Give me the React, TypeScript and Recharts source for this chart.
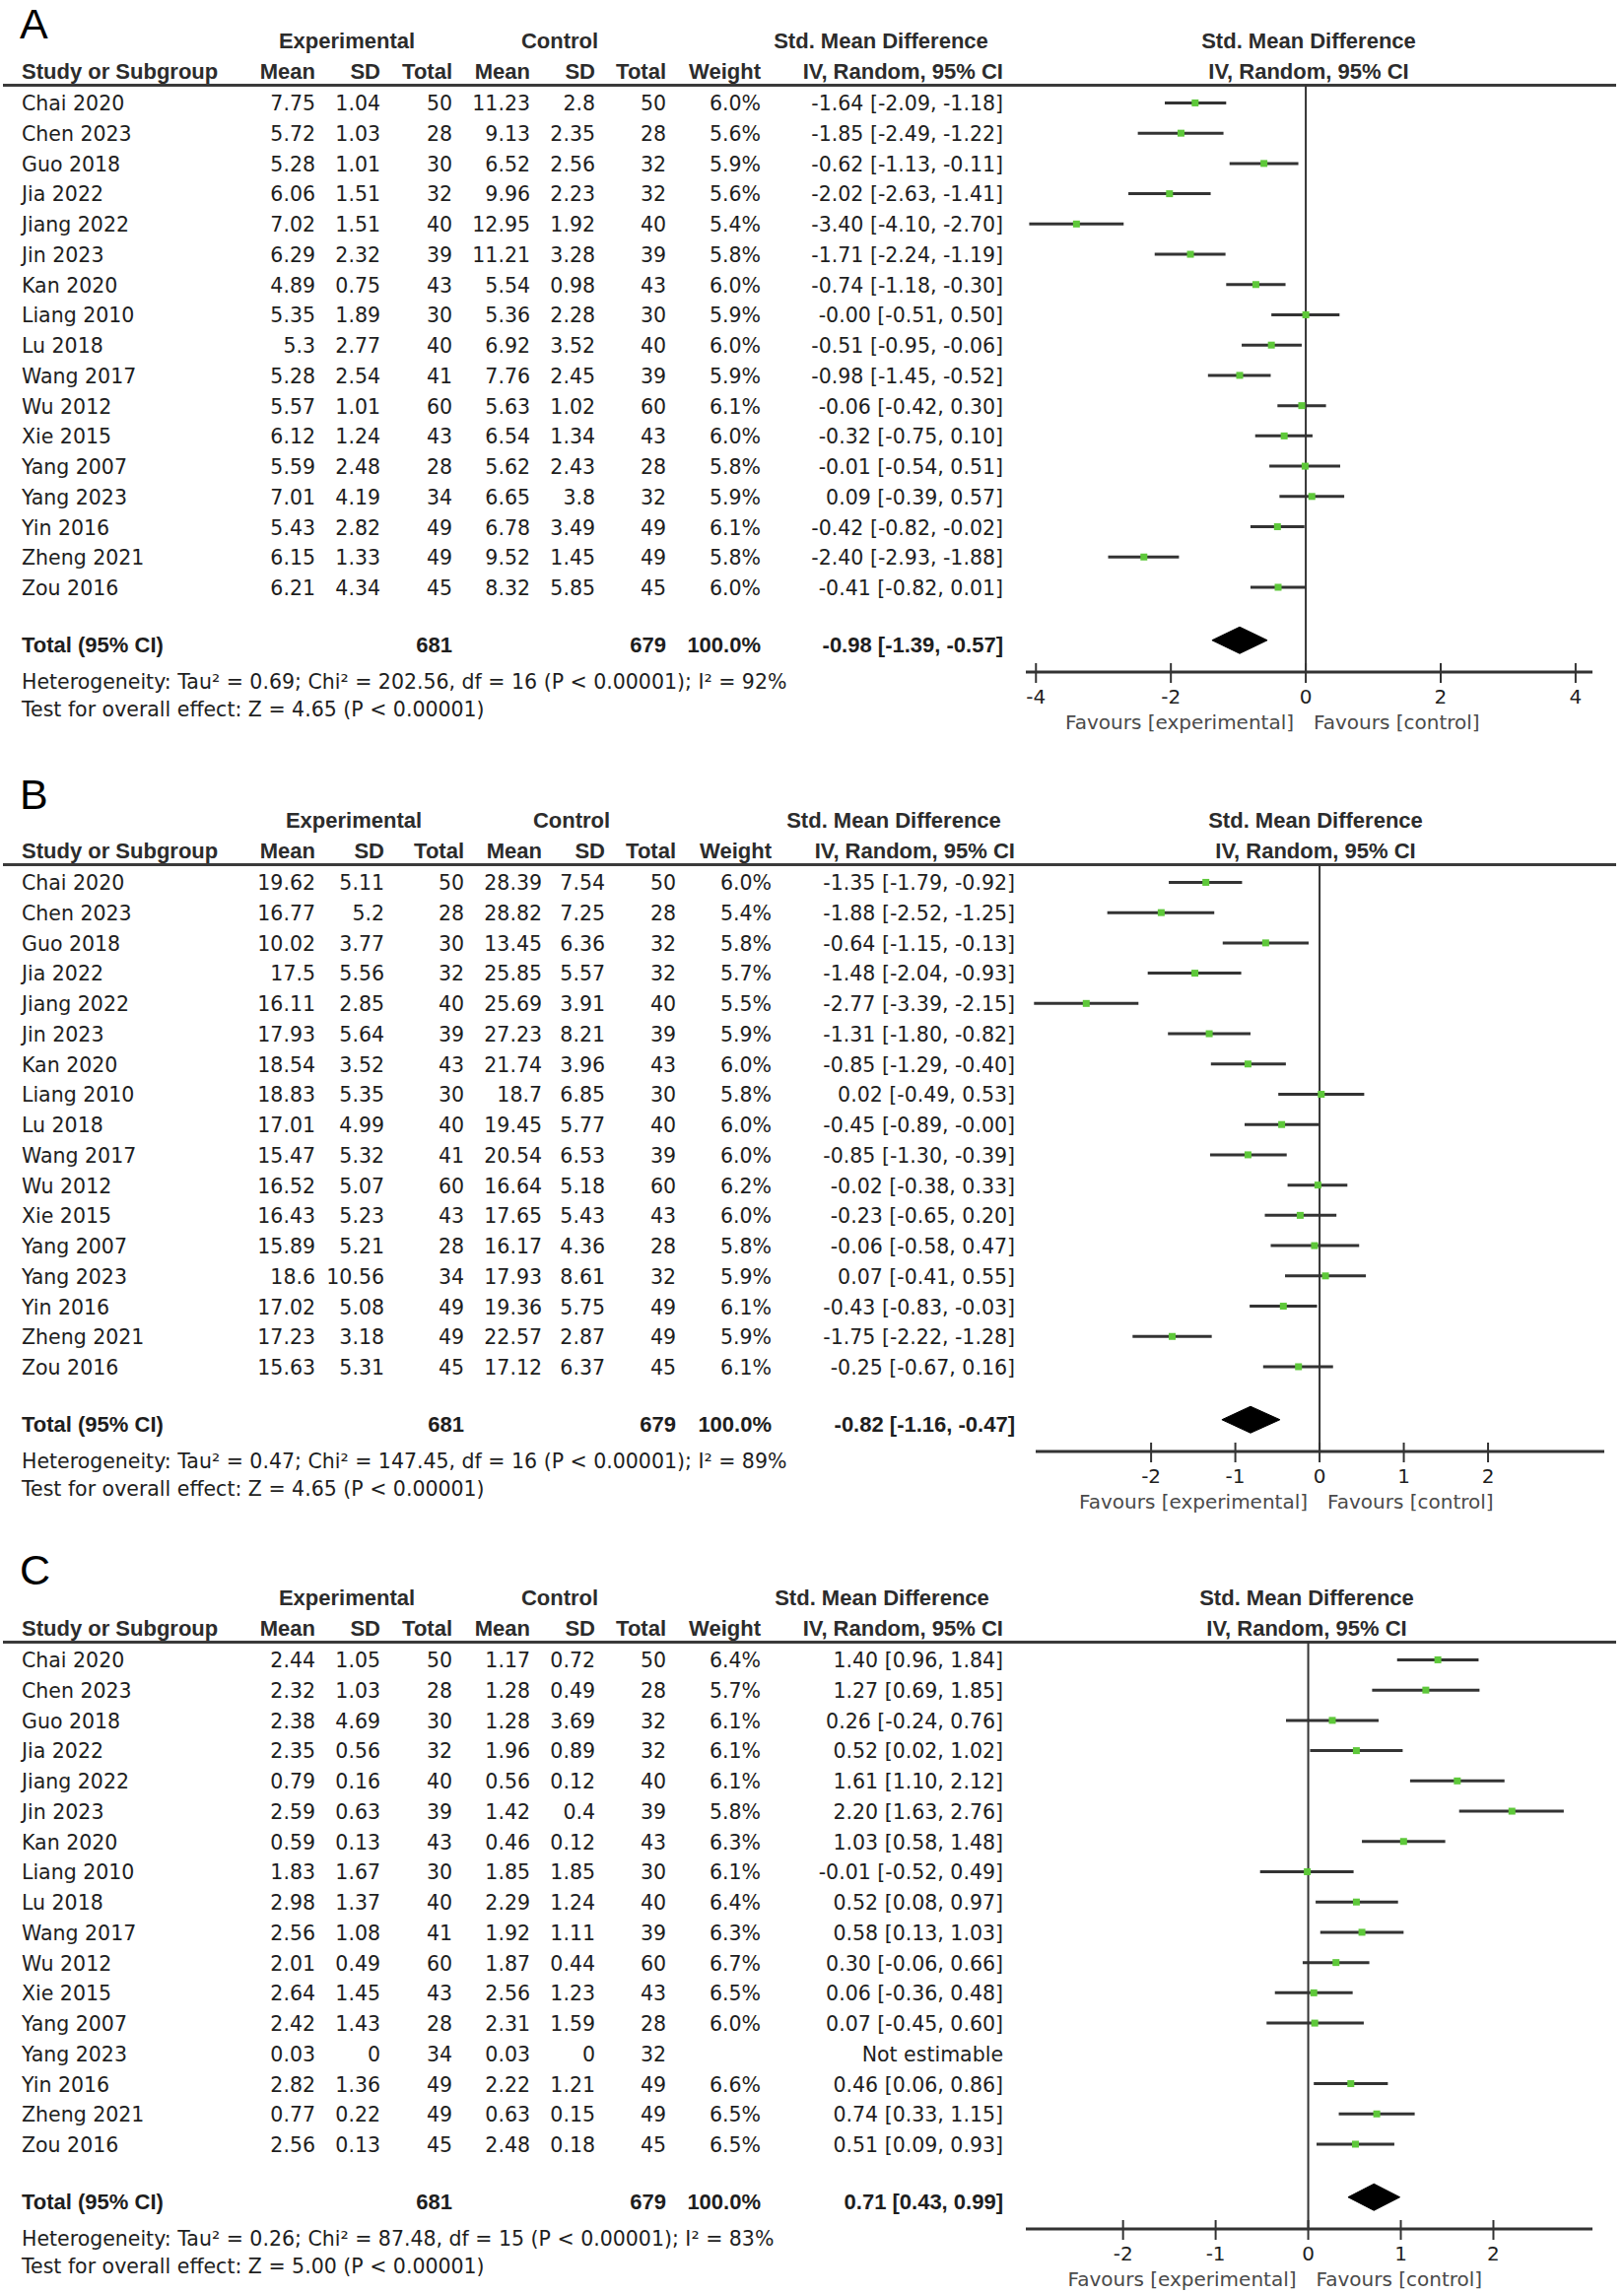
import React from "react";
import {
  ErrorBar,
  ReferenceLine,
  Scatter,
  ScatterChart,
  XAxis,
  YAxis,
} from "recharts";

const STUDIES = [
  "Chai 2020", "Chen 2023", "Guo 2018", "Jia 2022", "Jiang 2022", "Jin 2023",
  "Kan 2020", "Liang 2010", "Lu 2018", "Wang 2017", "Wu 2012", "Xie 2015",
  "Yang 2007", "Yang 2023", "Yin 2016", "Zheng 2021", "Zou 2016",
];
const EXP_N = [50, 28, 30, 32, 40, 39, 43, 30, 40, 41, 60, 43, 28, 34, 49, 49, 45];
const CTL_N = [50, 28, 32, 32, 40, 39, 43, 30, 40, 39, 60, 43, 28, 32, 49, 49, 45];

// Panel A
const A_EXP_MEAN = ["7.75", "5.72", "5.28", "6.06", "7.02", "6.29", "4.89", "5.35", "5.3", "5.28", "5.57", "6.12", "5.59", "7.01", "5.43", "6.15", "6.21"];
const A_EXP_SD = ["1.04", "1.03", "1.01", "1.51", "1.51", "2.32", "0.75", "1.89", "2.77", "2.54", "1.01", "1.24", "2.48", "4.19", "2.82", "1.33", "4.34"];
const A_CTL_MEAN = ["11.23", "9.13", "6.52", "9.96", "12.95", "11.21", "5.54", "5.36", "6.92", "7.76", "5.63", "6.54", "5.62", "6.65", "6.78", "9.52", "8.32"];
const A_CTL_SD = ["2.8", "2.35", "2.56", "2.23", "1.92", "3.28", "0.98", "2.28", "3.52", "2.45", "1.02", "1.34", "2.43", "3.8", "3.49", "1.45", "5.85"];
const A_WEIGHT = [6.0, 5.6, 5.9, 5.6, 5.4, 5.8, 6.0, 5.9, 6.0, 5.9, 6.1, 6.0, 5.8, 5.9, 6.1, 5.8, 6.0];
const A_SMD = ["-1.64", "-1.85", "-0.62", "-2.02", "-3.40", "-1.71", "-0.74", "-0.00", "-0.51", "-0.98", "-0.06", "-0.32", "-0.01", "0.09", "-0.42", "-2.40", "-0.41"];
const A_LO = ["-2.09", "-2.49", "-1.13", "-2.63", "-4.10", "-2.24", "-1.18", "-0.51", "-0.95", "-1.45", "-0.42", "-0.75", "-0.54", "-0.39", "-0.82", "-2.93", "-0.82"];
const A_HI = ["-1.18", "-1.22", "-0.11", "-1.41", "-2.70", "-1.19", "-0.30", "0.50", "-0.06", "-0.52", "0.30", "0.10", "0.51", "0.57", "-0.02", "-1.88", "0.01"];
const A_TOTAL = ["-0.98", "-1.39", "-0.57"];
const A_TICKS = [-4, -2, 0, 2, 4];

// Panel B
const B_EXP_MEAN = ["19.62", "16.77", "10.02", "17.5", "16.11", "17.93", "18.54", "18.83", "17.01", "15.47", "16.52", "16.43", "15.89", "18.6", "17.02", "17.23", "15.63"];
const B_EXP_SD = ["5.11", "5.2", "3.77", "5.56", "2.85", "5.64", "3.52", "5.35", "4.99", "5.32", "5.07", "5.23", "5.21", "10.56", "5.08", "3.18", "5.31"];
const B_CTL_MEAN = ["28.39", "28.82", "13.45", "25.85", "25.69", "27.23", "21.74", "18.7", "19.45", "20.54", "16.64", "17.65", "16.17", "17.93", "19.36", "22.57", "17.12"];
const B_CTL_SD = ["7.54", "7.25", "6.36", "5.57", "3.91", "8.21", "3.96", "6.85", "5.77", "6.53", "5.18", "5.43", "4.36", "8.61", "5.75", "2.87", "6.37"];
const B_WEIGHT = [6.0, 5.4, 5.8, 5.7, 5.5, 5.9, 6.0, 5.8, 6.0, 6.0, 6.2, 6.0, 5.8, 5.9, 6.1, 5.9, 6.1];
const B_SMD = ["-1.35", "-1.88", "-0.64", "-1.48", "-2.77", "-1.31", "-0.85", "0.02", "-0.45", "-0.85", "-0.02", "-0.23", "-0.06", "0.07", "-0.43", "-1.75", "-0.25"];
const B_LO = ["-1.79", "-2.52", "-1.15", "-2.04", "-3.39", "-1.80", "-1.29", "-0.49", "-0.89", "-1.30", "-0.38", "-0.65", "-0.58", "-0.41", "-0.83", "-2.22", "-0.67"];
const B_HI = ["-0.92", "-1.25", "-0.13", "-0.93", "-2.15", "-0.82", "-0.40", "0.53", "-0.00", "-0.39", "0.33", "0.20", "0.47", "0.55", "-0.03", "-1.28", "0.16"];
const B_TOTAL = ["-0.82", "-1.16", "-0.47"];
const B_TICKS = [-2, -1, 0, 1, 2];

// Panel C
const C_EXP_MEAN = ["2.44", "2.32", "2.38", "2.35", "0.79", "2.59", "0.59", "1.83", "2.98", "2.56", "2.01", "2.64", "2.42", "0.03", "2.82", "0.77", "2.56"];
const C_EXP_SD = ["1.05", "1.03", "4.69", "0.56", "0.16", "0.63", "0.13", "1.67", "1.37", "1.08", "0.49", "1.45", "1.43", "0", "1.36", "0.22", "0.13"];
const C_CTL_MEAN = ["1.17", "1.28", "1.28", "1.96", "0.56", "1.42", "0.46", "1.85", "2.29", "1.92", "1.87", "2.56", "2.31", "0.03", "2.22", "0.63", "2.48"];
const C_CTL_SD = ["0.72", "0.49", "3.69", "0.89", "0.12", "0.4", "0.12", "1.85", "1.24", "1.11", "0.44", "1.23", "1.59", "0", "1.21", "0.15", "0.18"];
const C_WEIGHT = [6.4, 5.7, 6.1, 6.1, 6.1, 5.8, 6.3, 6.1, 6.4, 6.3, 6.7, 6.5, 6.0, null, 6.6, 6.5, 6.5];
const C_SMD = ["1.40", "1.27", "0.26", "0.52", "1.61", "2.20", "1.03", "-0.01", "0.52", "0.58", "0.30", "0.06", "0.07", null, "0.46", "0.74", "0.51"];
const C_LO = ["0.96", "0.69", "-0.24", "0.02", "1.10", "1.63", "0.58", "-0.52", "0.08", "0.13", "-0.06", "-0.36", "-0.45", null, "0.06", "0.33", "0.09"];
const C_HI = ["1.84", "1.85", "0.76", "1.02", "2.12", "2.76", "1.48", "0.49", "0.97", "1.03", "0.66", "0.48", "0.60", null, "0.86", "1.15", "0.93"];
const C_TOTAL = ["0.71", "0.43", "0.99"];
const C_TICKS = [-2, -1, 0, 1, 2];

const HET = [
  "Heterogeneity: Tau² = 0.69; Chi² = 202.56, df = 16 (P < 0.00001); I² = 92%",
  "Heterogeneity: Tau² = 0.47; Chi² = 147.45, df = 16 (P < 0.00001); I² = 89%",
  "Heterogeneity: Tau² = 0.26; Chi² = 87.48, df = 15 (P < 0.00001); I² = 83%",
];
const OVERALL = [
  "Test for overall effect: Z = 4.65 (P < 0.00001)",
  "Test for overall effect: Z = 4.65 (P < 0.00001)",
  "Test for overall effect: Z = 5.00 (P < 0.00001)",
];
const TOTAL_EXP = 681;
const TOTAL_CTL = 679;

const PAGE_W = 1648;
const ROW0 = 105;
const ROW_STEP = 30.75;
const TOTAL_ROW = 17.75;
const REG = "'DejaVu Sans', sans-serif";
const BOLD = "'Liberation Sans', Arial, sans-serif";
const INK = "#1e1e1e";
const HEAD_INK = "#2c2c2c";
const CI_INK = "#333333";
const POINT = "#5ec83a";

type Cols = {
  expMean: number; expSD: number; expTotal: number;
  ctlMean: number; ctlSD: number; ctlTotal: number;
  weight: number; ci: number;
  expHead: number; ctlHead: number; smdHead: number; plotHead: number;
  axisL: number; axisR: number; domain: [number, number];
};

function Txt({
  x, y, align = "left", bold = false, color = INK, children,
}: {
  x: number; y: number; align?: "left" | "right" | "center"; bold?: boolean;
  color?: string; children: React.ReactNode;
}) {
  const style: React.CSSProperties = {
    position: "absolute",
    top: y - 15,
    height: 30,
    lineHeight: "30px",
    whiteSpace: "nowrap",
    fontFamily: bold ? BOLD : REG,
    fontWeight: bold ? 700 : 400,
    fontSize: bold ? 22 : 20.5,
    color,
  };
  if (align === "left") style.left = x;
  else if (align === "right") style.right = PAGE_W - x;
  else {
    style.left = x - 300;
    style.width = 600;
    style.textAlign = "center";
  }
  return <div style={style}>{children}</div>;
}

// tick that crosses the axis line, label underneath
function CrossTick(props: any) {
  const { x, y, payload } = props;
  return (
    <g>
      <line x1={x} x2={x} y1={y - 9} y2={y + 11} stroke={CI_INK} strokeWidth={2} />
      <text x={x} y={y + 32} textAnchor="middle" fontFamily={REG} fontSize={20} fill={INK}>
        {payload.value}
      </text>
    </g>
  );
}

// the two favours captions sit either side of the zero line
function FavoursLabel(props: any) {
  const vb = props.viewBox ?? {};
  const x = vb.x ?? 0;
  const y = (vb.y ?? 0) + (vb.height ?? 0) + 58;
  return (
    <g fontFamily={REG} fontSize={20} fill="#4a4a4a">
      <text x={x - 12} y={y} textAnchor="end">Favours [experimental]</text>
      <text x={x + 8} y={y} textAnchor="start">Favours [control]</text>
    </g>
  );
}

function Panel({
  top, cols, ticks, expMean, expSD, ctlMean, ctlSD, weight, smd, lo, hi, total, het, overall,
}: {
  top: number; cols: Cols; ticks: number[];
  expMean: string[]; expSD: string[]; ctlMean: string[]; ctlSD: string[];
  weight: (number | null)[]; smd: (string | null)[]; lo: (string | null)[]; hi: (string | null)[];
  total: string[]; het: string; overall: string;
}) {
  const points = STUDIES.map((_, i) => {
    if (smd[i] === null) return null;
    const est = Number(smd[i]);
    return { x: est, y: i, err: [est - Number(lo[i]), Number(hi[i]) - est] };
  }).filter(Boolean) as { x: number; y: number; err: number[] }[];

  const [tEst, tLo, tHi] = total.map(Number);
  const h = 0.44;
  const diamond = [
    { x: tLo, y: TOTAL_ROW },
    { x: tEst, y: TOTAL_ROW - h },
    { x: tHi, y: TOTAL_ROW },
    { x: tEst, y: TOTAL_ROW + h },
    { x: tLo, y: TOTAL_ROW },
  ];

  const rowY = (i: number) => ROW0 + ROW_STEP * i;

  return (
    <div style={{ position: "absolute", left: 0, top, width: PAGE_W, height: 780 }}>
      <Txt x={cols.expHead} y={42} align="center" bold color={HEAD_INK}>Experimental</Txt>
      <Txt x={cols.ctlHead} y={42} align="center" bold color={HEAD_INK}>Control</Txt>
      <Txt x={cols.smdHead} y={42} align="center" bold color={HEAD_INK}>Std. Mean Difference</Txt>
      <Txt x={cols.plotHead} y={42} align="center" bold color={HEAD_INK}>Std. Mean Difference</Txt>
      <Txt x={22} y={73} bold color={HEAD_INK}>Study or Subgroup</Txt>
      <Txt x={cols.expMean} y={73} align="right" bold color={HEAD_INK}>Mean</Txt>
      <Txt x={cols.expSD} y={73} align="right" bold color={HEAD_INK}>SD</Txt>
      <Txt x={cols.expTotal} y={73} align="right" bold color={HEAD_INK}>Total</Txt>
      <Txt x={cols.ctlMean} y={73} align="right" bold color={HEAD_INK}>Mean</Txt>
      <Txt x={cols.ctlSD} y={73} align="right" bold color={HEAD_INK}>SD</Txt>
      <Txt x={cols.ctlTotal} y={73} align="right" bold color={HEAD_INK}>Total</Txt>
      <Txt x={cols.weight} y={73} align="right" bold color={HEAD_INK}>Weight</Txt>
      <Txt x={cols.ci} y={73} align="right" bold color={HEAD_INK}>IV, Random, 95% CI</Txt>
      <Txt x={cols.plotHead} y={73} align="center" bold color={HEAD_INK}>IV, Random, 95% CI</Txt>
      <div style={{ position: "absolute", left: 3, top: 85, width: 1637, height: 3, background: "#3a3a3a" }} />

      {STUDIES.map((name, i) => (
        <React.Fragment key={name + i}>
          <Txt x={22} y={rowY(i)}>{name}</Txt>
          <Txt x={cols.expMean} y={rowY(i)} align="right">{expMean[i]}</Txt>
          <Txt x={cols.expSD} y={rowY(i)} align="right">{expSD[i]}</Txt>
          <Txt x={cols.expTotal} y={rowY(i)} align="right">{EXP_N[i]}</Txt>
          <Txt x={cols.ctlMean} y={rowY(i)} align="right">{ctlMean[i]}</Txt>
          <Txt x={cols.ctlSD} y={rowY(i)} align="right">{ctlSD[i]}</Txt>
          <Txt x={cols.ctlTotal} y={rowY(i)} align="right">{CTL_N[i]}</Txt>
          <Txt x={cols.weight} y={rowY(i)} align="right">
            {weight[i] === null ? "" : `${(weight[i] as number).toFixed(1)}%`}
          </Txt>
          <Txt x={cols.ci} y={rowY(i)} align="right">
            {smd[i] === null ? "Not estimable" : `${smd[i]} [${lo[i]}, ${hi[i]}]`}
          </Txt>
        </React.Fragment>
      ))}

      <Txt x={22} y={655} bold>Total (95% CI)</Txt>
      <Txt x={cols.expTotal} y={655} align="right" bold>{TOTAL_EXP}</Txt>
      <Txt x={cols.ctlTotal} y={655} align="right" bold>{TOTAL_CTL}</Txt>
      <Txt x={cols.weight} y={655} align="right" bold>100.0%</Txt>
      <Txt x={cols.ci} y={655} align="right" bold>{`${total[0]} [${total[1]}, ${total[2]}]`}</Txt>
      <Txt x={22} y={692}>{het}</Txt>
      <Txt x={22} y={720}>{overall}</Txt>

      <div style={{ position: "absolute", left: 1000, top: 0 }}>
        <ScatterChart
          width={648}
          height={760}
          margin={{ top: 86, bottom: 18, left: cols.axisL - 1000, right: PAGE_W - cols.axisR }}
          style={{ overflow: "visible" }}
        >
          <XAxis
            type="number"
            dataKey="x"
            domain={cols.domain}
            allowDataOverflow
            ticks={ticks}
            interval={0}
            height={60}
            tickSize={0}
            tickMargin={0}
            tickLine={false}
            tick={<CrossTick />}
            axisLine={{ stroke: CI_INK, strokeWidth: 3 }}
          />
          <YAxis type="number" dataKey="y" domain={[-0.6, 18.8]} reversed hide allowDataOverflow />
          <ReferenceLine x={0} stroke={CI_INK} strokeWidth={2} label={<FavoursLabel />} />
          <Scatter
            data={points}
            isAnimationActive={false}
            shape={(p: any) => (
              <rect x={p.cx - 3.5} y={p.cy - 3.5} width={7} height={7} fill={POINT} />
            )}
          >
            <ErrorBar dataKey="err" direction="x" width={0} stroke={CI_INK} strokeWidth={3} isAnimationActive={false} />
          </Scatter>
          <Scatter
            data={diamond}
            isAnimationActive={false}
            line={{ stroke: "#000", strokeWidth: 1, fill: "#000" }}
            lineType="joint"
            shape={() => <g />}
          />
        </ScatterChart>
      </div>
    </div>
  );
}

const COLS_A: Cols = {
  expMean: 320, expSD: 386, expTotal: 459, ctlMean: 538, ctlSD: 604, ctlTotal: 676,
  weight: 772, ci: 1018, expHead: 352, ctlHead: 568, smdHead: 894, plotHead: 1328,
  axisL: 1041, axisR: 1616, domain: [-4.15, 4.25],
};
const COLS_B: Cols = {
  expMean: 320, expSD: 390, expTotal: 471, ctlMean: 550, ctlSD: 614, ctlTotal: 686,
  weight: 783, ci: 1030, expHead: 359, ctlHead: 580, smdHead: 907, plotHead: 1335,
  axisL: 1051, axisR: 1628, domain: [-3.37, 3.38],
};
const COLS_C: Cols = {
  expMean: 320, expSD: 386, expTotal: 459, ctlMean: 538, ctlSD: 604, ctlTotal: 676,
  weight: 772, ci: 1018, expHead: 352, ctlHead: 568, smdHead: 895, plotHead: 1326,
  axisL: 1041, axisR: 1616, domain: [-3.05, 3.07],
};

function Letter({ top, children }: { top: number; children: string }) {
  return (
    <div
      style={{
        position: "absolute", left: 20, top, fontFamily: BOLD, fontWeight: 400,
        fontSize: 43, lineHeight: "44px", height: 44, color: "#000",
      }}
    >
      {children}
    </div>
  );
}

export default function App() {
  return (
    <div
      style={{
        position: "absolute", left: 0, top: 0, width: PAGE_W, height: 2327,
        background: "#fff", overflow: "hidden",
      }}
    >
      <Panel
        top={0} cols={COLS_A} ticks={A_TICKS}
        expMean={A_EXP_MEAN} expSD={A_EXP_SD} ctlMean={A_CTL_MEAN} ctlSD={A_CTL_SD}
        weight={A_WEIGHT} smd={A_SMD} lo={A_LO} hi={A_HI} total={A_TOTAL}
        het={HET[0]} overall={OVERALL[0]}
      />
      <Panel
        top={791} cols={COLS_B} ticks={B_TICKS}
        expMean={B_EXP_MEAN} expSD={B_EXP_SD} ctlMean={B_CTL_MEAN} ctlSD={B_CTL_SD}
        weight={B_WEIGHT} smd={B_SMD} lo={B_LO} hi={B_HI} total={B_TOTAL}
        het={HET[1]} overall={OVERALL[1]}
      />
      <Panel
        top={1580} cols={COLS_C} ticks={C_TICKS}
        expMean={C_EXP_MEAN} expSD={C_EXP_SD} ctlMean={C_CTL_MEAN} ctlSD={C_CTL_SD}
        weight={C_WEIGHT} smd={C_SMD} lo={C_LO} hi={C_HI} total={C_TOTAL}
        het={HET[2]} overall={OVERALL[2]}
      />
      <Letter top={2}>A</Letter>
      <Letter top={784}>B</Letter>
      <Letter top={1571}>C</Letter>
    </div>
  );
}
